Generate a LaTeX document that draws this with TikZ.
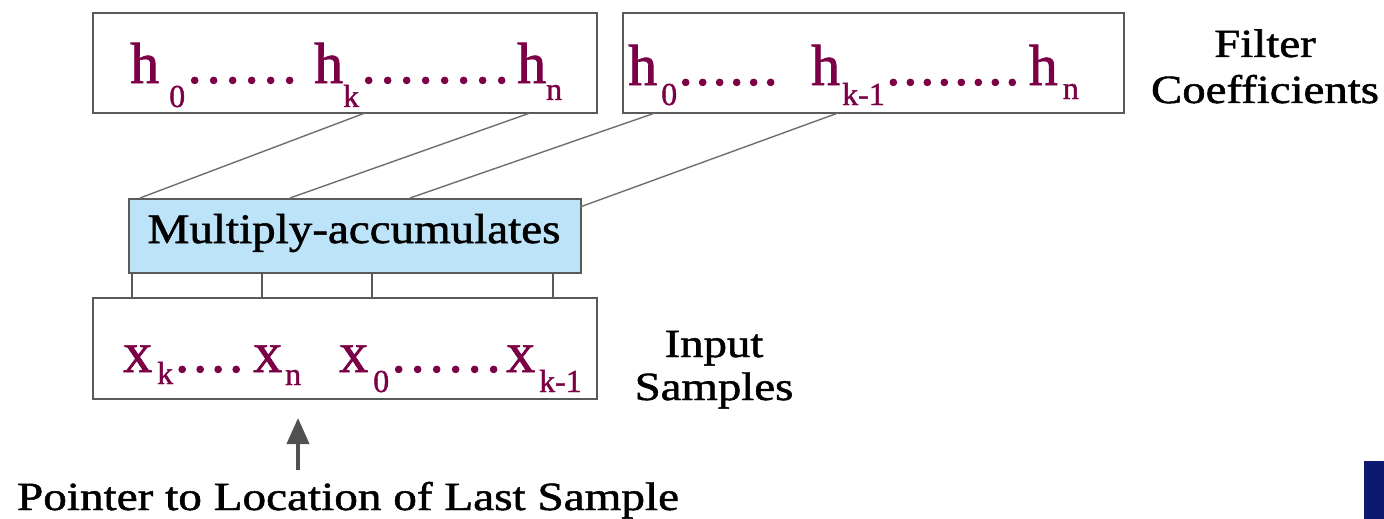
\documentclass[tikz,border=0pt]{standalone}
\usepackage{fontspec}
\usepackage{graphicx}
\setmainfont[FakeBold=1.2]{Liberation Serif}
\usetikzlibrary{arrows.meta}
\definecolor{coef}{HTML}{7B0046}
\definecolor{boxline}{HTML}{5A5A5A}
\definecolor{wireline}{HTML}{6E6E6E}
\definecolor{macfill}{HTML}{BDE3F8}
\definecolor{navyblk}{HTML}{0B1A6E}
\newcommand\subs[2][24pt]{\raisebox{-#1}{\fontsize{32}{32}\selectfont #2}}
\newcommand\dotrun[2]{\hbox to #1{\leaders\hbox to #2{\hss.\hss}\hfill}}
\tikzset{
  coefbox/.style={draw=boxline, line width=2pt, fill=white, anchor=north west, inner sep=0pt},
  macbox/.style={draw=boxline, line width=2pt, fill=macfill, anchor=north west, inner sep=0pt},
  seqtext/.style={anchor=base west, inner sep=0pt, text=coef, font=\fontsize{58}{58}\selectfont},
  labeltext/.style={inner sep=0pt, text=black},
  wire/.style={draw=wireline, line width=1.4pt},
  tap/.style={draw=boxline, line width=1.8pt},
  pointer/.style={draw=boxline!90!black, line width=4pt, -{Triangle[width=22pt,length=26pt]}}
}
\begin{document}
\begin{tikzpicture}[x=1pt,y=-1pt]
\useasboundingbox (0,0) rectangle (1384,519);
% boxes
\node[coefbox, minimum width=504pt, minimum height=100pt] (b1) at (92,12) {};
\node[coefbox, minimum width=501pt, minimum height=100pt] (b2) at (622,12) {};
\node[macbox, minimum width=452pt, minimum height=74pt] (mac) at (128,198) {};
\node[coefbox, minimum width=504pt, minimum height=101pt] (inp) at (92,297) {};
% texts inside boxes
\node[seqtext] (t1) at (130,83) {h\kern10pt\subs{0}\dotrun{114pt}{19pt}\kern15pt h\subs{k}\dotrun{152pt}{19pt}\kern6pt h\subs[17pt]{n}};
\node[seqtext] (t2) at (628,85) {h\kern4pt\subs[20pt]{0}\dotrun{102pt}{17pt}\kern32pt h\kern2pt\subs[20pt]{k-1}\dotrun{140pt}{17pt}\kern4pt h\kern5pt\subs[14pt]{n}};
\node[seqtext] (t3) at (123,372) {x\kern5pt\subs[12pt]{k}\dotrun{76pt}{18pt}\kern4pt x\kern3pt\subs[13pt]{n}\kern38pt x\kern5pt\subs[20pt]{0}\dotrun{114pt}{19pt}\kern3pt x\kern4pt\subs[20pt]{k-1}};
\node[labeltext] (mact) at (354,233) {\fontsize{42}{42}\selectfont\scalebox{1.12}[1]{Multiply-accumulates}};
% side labels
\node[labeltext] (fc) at (1265,70.8) {\fontsize{40}{46}\selectfont\scalebox{1.17}[1]{\begin{tabular}{@{}c@{}}Filter\\Coefficients\end{tabular}}};
\node[labeltext] (is) at (714,369.9) {\fontsize{40}{43}\selectfont\scalebox{1.17}[1]{\begin{tabular}{@{}c@{}}Input\\Samples\end{tabular}}};
\node[labeltext, anchor=base] (ptr) at (348,510) {\fontsize{40}{40}\selectfont\scalebox{1.18}[1]{Pointer to Location of Last Sample}};
% connector points
\coordinate (h1a) at (365,113);
\coordinate (h1b) at (530,113);
\coordinate (h2a) at (655,113);
\coordinate (h2b) at (838,113);
\coordinate (m1) at (140,198);
\coordinate (m2) at (290,198);
\coordinate (m3) at (410,198);
\coordinate (m4) at (580,207);
\draw[wire] (h1a) -- (m1);
\draw[wire] (h1b) -- (m2);
\draw[wire] (h2a) -- (m3);
\draw[wire] (h2b) -- (m4);
% taps between MAC and input samples
\foreach \i/\xx in {1/132,2/262,3/372,4/553}{
  \coordinate (mt\i) at (\xx,272);
  \coordinate (it\i) at (\xx,297);
  \draw[tap] (mt\i) -- (it\i);
}
% pointer arrow
\coordinate (ptail) at (298,470);
\coordinate (ptip) at (298,418);
\draw[pointer] (ptail) -- (ptip);
% cropped dark block at lower right
\fill[navyblk] (1364,461) rectangle (1384,519);
\end{tikzpicture}
\end{document}
